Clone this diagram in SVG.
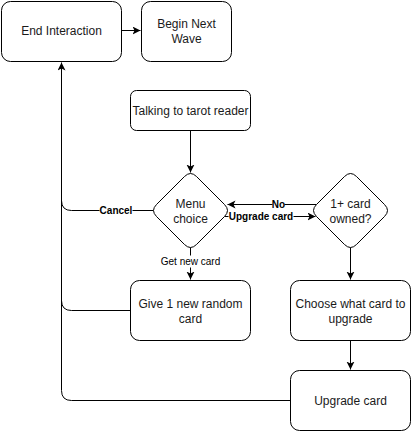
<svg xmlns="http://www.w3.org/2000/svg" width="412" height="432" viewBox="0 0 412 432">
<style>
.box{fill:#fff;stroke:#000;stroke-width:1}
.t{font-family:"Liberation Sans",Arial,sans-serif;font-size:12px;fill:#1a1a1a;text-anchor:middle;dominant-baseline:central}
.e{fill:none;stroke:#000;stroke-width:1}
.l{font-family:"Liberation Sans",Arial,sans-serif;font-size:10px;fill:#000;text-anchor:middle;dominant-baseline:central}
.b{font-weight:bold}
.bg{fill:#fff}
</style>
<defs>
<marker id="arr" markerWidth="10" markerHeight="10" refX="8" refY="4" orient="auto" markerUnits="userSpaceOnUse">
<path d="M0,0 L8,4 L0,8 L2,4 Z" fill="#000"/>
</marker>
</defs>
<g transform="translate(0.5 0.5)">
<g id="connectors">
<path class="e" d="M121,30 L140,30" marker-end="url(#arr)"/>
<path class="e" d="M190,130 L190,172" marker-end="url(#arr)"/>
<path class="e" d="M190,247 L190,279" marker-end="url(#arr)"/>
<path class="e" d="M350,247 L350,279" marker-end="url(#arr)"/>
<path class="e" d="M350,340 L350,369" marker-end="url(#arr)"/>
<path class="e" d="M316,204 L227,204" marker-end="url(#arr)"/>
<path class="e" d="M224,216 L315,216" marker-end="url(#arr)"/>
<path class="e" d="M290,400 L71,400 Q61,400 61,390 L61,62" marker-end="url(#arr)"/>
<path class="e" d="M130,310 L71,310 Q61,310 61,300"/>
<path class="e" d="M153,210 L71,210 Q61,210 61,200"/>
<rect class="bg" x="99" y="204" width="33" height="12"/>
<text class="l b" x="115.5" y="210">Cancel</text>
<rect class="bg" x="272" y="198" width="12" height="12"/>
<text class="l b" x="278" y="204">No</text>
<rect class="bg" x="228" y="210" width="65" height="12"/>
<text class="l b" x="260.5" y="216">Upgrade card</text>
<rect class="bg" x="160" y="255" width="60" height="12"/>
<text class="l" x="190" y="261">Get new card</text>
</g>
<g id="end-interaction">
<rect class="box" x="1" y="1" width="120" height="60" rx="9"/>
<text class="t" x="61" y="30">End Interaction</text>
</g>
<g id="begin-next-wave">
<rect class="box" x="141" y="1" width="90" height="60" rx="9"/>
<text class="t" x="186" y="23">Begin Next</text>
<text class="t" x="186" y="38">Wave</text>
</g>
<g id="talking">
<rect class="box" x="130" y="90" width="120" height="40" rx="6"/>
<text class="t" x="190" y="110">Talking to tarot reader</text>
</g>
<g id="menu-choice">
<path class="box" d="M184,176 Q190,170 196,176 L224,204 Q230,210 224,216 L196,244 Q190,250 184,244 L156,216 Q150,210 156,204 Z"/>
<text class="t" x="190" y="203">Menu</text>
<text class="t" x="190" y="218">choice</text>
</g>
<g id="card-owned">
<path class="box" d="M344,176 Q350,170 356,176 L384,204 Q390,210 384,216 L356,244 Q350,250 344,244 L316,216 Q310,210 316,204 Z"/>
<text class="t" x="350" y="203">1+ card</text>
<text class="t" x="350" y="218">owned?</text>
</g>
<g id="give-card">
<rect class="box" x="130" y="280" width="120" height="60" rx="9"/>
<text class="t" x="190" y="303">Give 1 new random</text>
<text class="t" x="190" y="318">card</text>
</g>
<g id="choose-card">
<rect class="box" x="290" y="280" width="120" height="60" rx="9"/>
<text class="t" x="350" y="303">Choose what card to</text>
<text class="t" x="350" y="318">upgrade</text>
</g>
<g id="upgrade-card">
<rect class="box" x="290" y="370" width="120" height="60" rx="9"/>
<text class="t" x="350" y="400">Upgrade card</text>
</g>
</g>
</svg>
